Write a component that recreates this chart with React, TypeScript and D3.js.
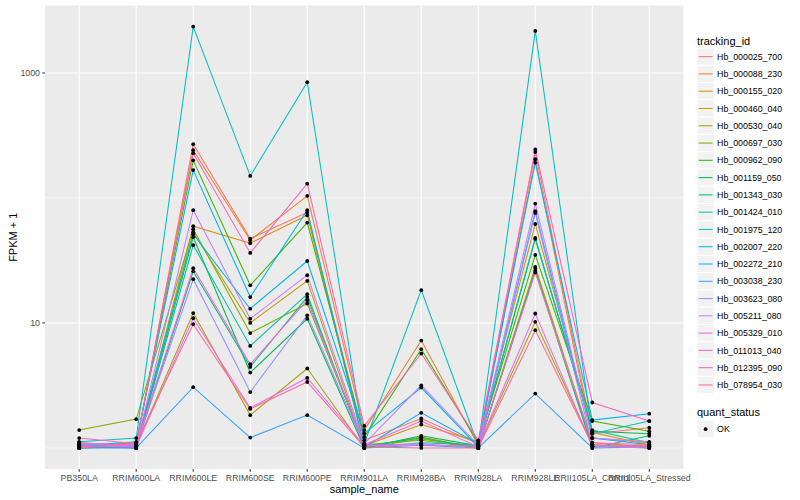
import * as d3 from 'd3';

// samples on the x axis
const sampleNames = [
  'PB350LA',
  'RRIM600LA',
  'RRIM600LE',
  'RRIM600SE',
  'RRIM600PE',
  'RRIM901LA',
  'RRIM928BA',
  'RRIM928LA',
  'RRIM928LE',
  'RRII105LA_Control',
  'RRII105LA_Stressed',
];

const trackingIds = [
  'Hb_000025_700',
  'Hb_000088_230',
  'Hb_000155_020',
  'Hb_000460_040',
  'Hb_000530_040',
  'Hb_000697_030',
  'Hb_000962_090',
  'Hb_001159_050',
  'Hb_001343_030',
  'Hb_001424_010',
  'Hb_001975_120',
  'Hb_002007_220',
  'Hb_002272_210',
  'Hb_003038_230',
  'Hb_003623_080',
  'Hb_005211_080',
  'Hb_005329_010',
  'Hb_011013_040',
  'Hb_012395_090',
  'Hb_078954_030',
];

// FPKM + 1, one value per sample
const hb000025_700 = [1.1, 1.05, 269, 47.3, 76.4, 1.15, 1.72, 1.08, 233, 1.3, 1.45];
const hb000088_230 = [1.02, 1.08, 241, 45.9, 104, 1.39, 7.23, 1.05, 204, 1.2, 1.1];
const hb000155_020 = [1.05, 1.0, 59.4, 43.4, 72.7, 1.04, 1.54, 1.12, 61.9, 1.33, 1.06];
const hb000460_040 = [1.0, 1.03, 53.2, 10.0, 21.7, 1.02, 1.22, 1.0, 28.1, 1.1, 1.02];
const hb000530_040 = [1.08, 1.04, 12.0, 1.83, 4.32, 1.0, 1.18, 1.02, 10.2, 1.06, 1.0];
const hb000697_030 = [1.39, 1.7, 56.2, 8.3, 14.3, 1.06, 1.15, 1.0, 27.2, 1.03, 1.04];
const hb000962_090 = [1.03, 1.1, 200, 20.0, 63.5, 1.22, 6.16, 1.1, 35, 1.64, 1.36];
const hb001159_050 = [1.06, 1.0, 48.5, 4.01, 10.8, 1.0, 1.25, 1.04, 47, 1.36, 1.3];
const hb001343_030 = [1.0, 1.02, 25.9, 4.45, 16.1, 1.03, 1.2, 1.0, 26.1, 1.0, 1.25];
const hb001424_010 = [1.02, 1.0, 41.9, 6.55, 17.0, 1.0, 1.1, 1.06, 47.9, 1.39, 1.1];
const hb001975_120 = [1.12, 1.2, 2350, 150, 843, 1.08, 18.3, 1.04, 2168, 1.3, 1.64];
const hb002007_220 = [1.0, 1.05, 51.3, 13.0, 31.3, 1.3, 3.04, 1.02, 78.3, 1.2, 1.06];
const hb002272_210 = [1.04, 1.12, 167, 16.1, 79.7, 1.02, 1.91, 1.08, 192, 1.67, 1.88];
const hb003038_230 = [1.0, 1.0, 3.06, 1.21, 1.83, 1.0, 1.05, 1.0, 2.72, 1.0, 1.02];
const hb003623_080 = [1.06, 1.06, 22.4, 2.8, 11.5, 1.05, 1.08, 1.0, 75.9, 1.06, 1.0];
const hb005211_080 = [1.1, 1.04, 79.8, 10.8, 24.1, 1.08, 3.17, 1.05, 90.2, 1.2, 1.12];
const hb005329_010 = [1.04, 1.02, 10.9, 2.09, 3.63, 1.04, 1.06, 1.03, 11.9, 1.03, 1.0];
const hb011013_040 = [1.02, 1.06, 27.4, 4.67, 15.2, 1.06, 1.64, 1.02, 25.3, 1.1, 1.06];
const hb012395_090 = [1.2, 1.08, 228, 36.3, 130, 1.5, 5.69, 1.15, 244, 2.31, 1.64];
const hb078954_030 = [1.0, 1.1, 9.77, 2.05, 3.37, 1.02, 1.0, 1.0, 8.74, 1.06, 1.03];

const fpkmSeries = [
  hb000025_700, hb000088_230, hb000155_020, hb000460_040, hb000530_040,
  hb000697_030, hb000962_090, hb001159_050, hb001343_030, hb001424_010,
  hb001975_120, hb002007_220, hb002272_210, hb003038_230, hb003623_080,
  hb005211_080, hb005329_010, hb011013_040, hb012395_090, hb078954_030,
];

const yMajorTicks = [10, 1000];
const yMinorTicks = [1, 100];
const quantStatus = ['OK'];

// ggplot hue palette for 20 groups
const palette = [
  '#F8766D', '#EA8331', '#D89000', '#C09B00', '#A3A500',
  '#7CAE00', '#39B600', '#00BB4E', '#00BF7D', '#00C1A3',
  '#00BFC4', '#00BAE0', '#00B0F6', '#35A2FF', '#9590FF',
  '#C77CFF', '#E76BF3', '#FA62DB', '#FF62BC', '#FF6C91',
];

const width = 800;
const height = 500;
const panel = { left: 45, right: 683.5, top: 5.5, bottom: 469 };
const font = '"Liberation Sans", Arial, Helvetica, sans-serif';

function App() {
  const allValues = fpkmSeries.flat();
  const [lo, hi] = d3.extent(allValues) as [number, number];
  const span = Math.log10(hi) - Math.log10(lo);
  const yScale = d3
    .scaleLog()
    .domain([Math.pow(10, Math.log10(lo) - span * 0.05), Math.pow(10, Math.log10(hi) + span * 0.05)])
    .range([panel.bottom, panel.top]);

  const xScale = d3
    .scalePoint<string>()
    .domain(sampleNames)
    .range([panel.left, panel.right])
    .padding(0.6);

  const line = d3
    .line<number>()
    .x((_, i) => xScale(sampleNames[i]) as number)
    .y((d) => yScale(d));

  const legendX = 697;
  const keySize = 17.28;
  const firstKeyY = 48;

  return (
    <div style={{ position: 'absolute', left: 0, top: 0 }}>
      <svg width={width} height={height} style={{ display: 'block', fontFamily: font }}>
        <rect width={width} height={height} fill="#FFFFFF" />
        <rect
          x={panel.left}
          y={panel.top}
          width={panel.right - panel.left}
          height={panel.bottom - panel.top}
          fill="#EBEBEB"
        />
        {yMinorTicks.map((t) => (
          <line key={`mn${t}`} x1={panel.left} x2={panel.right} y1={yScale(t)} y2={yScale(t)} stroke="#fff" strokeWidth={0.55} />
        ))}
        {yMajorTicks.map((t) => (
          <line key={`mj${t}`} x1={panel.left} x2={panel.right} y1={yScale(t)} y2={yScale(t)} stroke="#fff" strokeWidth={1.1} />
        ))}
        {sampleNames.map((s) => (
          <line key={`gx${s}`} x1={xScale(s)} x2={xScale(s)} y1={panel.top} y2={panel.bottom} stroke="#fff" strokeWidth={1.1} />
        ))}

        {fpkmSeries.map((vals, i) => (
          <path key={trackingIds[i]} d={line(vals) ?? ''} fill="none" stroke={palette[i]} strokeWidth={1.05} />
        ))}
        {fpkmSeries.map((vals, i) =>
          vals.map((v, j) => (
            <circle key={`${i}-${j}`} cx={xScale(sampleNames[j])} cy={yScale(v)} r={1.9} fill="#000" />
          ))
        )}

        {/* y axis */}
        {yMajorTicks.map((t) => (
          <g key={`yt${t}`}>
            <line x1={panel.left - 2.75} x2={panel.left} y1={yScale(t)} y2={yScale(t)} stroke="#333" strokeWidth={1.05} />
            <text x={panel.left - 5} y={yScale(t) + 3.1} textAnchor="end" fontSize={8.8} fill="#4D4D4D">
              {t}
            </text>
          </g>
        ))}
        <text
          transform={`translate(13,${(panel.top + panel.bottom) / 2}) rotate(-90)`}
          textAnchor="middle"
          fontSize={11}
          fill="#000"
          dy={4}
        >
          FPKM + 1
        </text>

        {/* x axis */}
        {sampleNames.map((s) => (
          <g key={`xt${s}`}>
            <line x1={xScale(s)} x2={xScale(s)} y1={panel.bottom} y2={panel.bottom + 2.75} stroke="#333" strokeWidth={1.05} />
            <text x={xScale(s)} y={panel.bottom + 11.5} textAnchor="middle" fontSize={8.8} fill="#4D4D4D">
              {s}
            </text>
          </g>
        ))}
        <text x={(panel.left + panel.right) / 2} y={493} textAnchor="middle" fontSize={11} fill="#000">
          sample_name
        </text>

        {/* legend: tracking_id */}
        <text x={legendX} y={44.5} fontSize={11} fill="#000">
          tracking_id
        </text>
        {trackingIds.map((id, i) => {
          const y0 = firstKeyY + i * keySize;
          return (
            <g key={`lg${id}`}>
              <rect x={legendX} y={y0} width={keySize} height={keySize} fill="#F2F2F2" stroke="#fff" strokeWidth={1} />
              <line x1={legendX + 1.7} x2={legendX + keySize - 1.7} y1={y0 + keySize / 2} y2={y0 + keySize / 2} stroke={palette[i]} strokeWidth={1.05} />
              <text x={legendX + keySize + 2.8} y={y0 + keySize / 2 + 3.1} fontSize={8.8} fill="#000">
                {id}
              </text>
            </g>
          );
        })}

        {/* legend: quant_status */}
        <text x={legendX} y={416} fontSize={11} fill="#000">
          quant_status
        </text>
        {quantStatus.map((q, i) => {
          const y0 = 420.5 + i * keySize;
          return (
            <g key={`qs${q}`}>
              <rect x={legendX} y={y0} width={keySize} height={keySize} fill="#F2F2F2" stroke="#fff" strokeWidth={1} />
              <circle cx={legendX + keySize / 2} cy={y0 + keySize / 2} r={1.9} fill="#000" />
              <text x={legendX + keySize + 2.8} y={y0 + keySize / 2 + 3.1} fontSize={8.8} fill="#000">
                {q}
              </text>
            </g>
          );
        })}
      </svg>
    </div>
  );
}

export default App;
